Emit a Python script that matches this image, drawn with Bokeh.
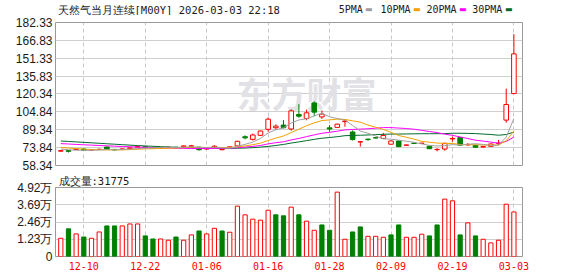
from bokeh.plotting import figure
from bokeh.layouts import column
from bokeh.models import Range1d, FixedTicker, Label, ColumnDataSource, Title
from bokeh.embed import file_html
from bokeh.resources import INLINE

# ---------------- data ----------------
tick_idx = [3, 11, 19, 27, 35, 43, 51, 59]
tick_labels = ["12-10", "12-22", "01-06", "01-16", "01-28", "02-09", "02-19", "03-03"]

price_ticks = [58.34, 73.84, 89.34, 104.84, 120.34, 135.83, 151.33, 166.83, 182.33]
price_tick_labels = ["58.34", "73.84", "89.34", "104.84", "120.34", "135.83", "151.33", "166.83", "182.33"]
vol_ticks = [0, 12300, 24600, 36900, 49200]
vol_tick_labels = ["0", "1.23万", "2.46万", "3.69万", "4.92万"]

title_text = "天然气当月连续[M00Y] 2026-03-03 22:18"
ma_names = ["5PMA", "10PMA", "20PMA", "30PMA"]

opens = [70.8, 71.3, 72.2, 72.6, 71.8, 72.2, 74.4, 72.3, 72.3, 73.0,
         74.3, 74.6, 74.0, 73.5, 73.9, 74.2, 74.6, 75.0, 74.2, 72.6,
         74.3, 72.0, 74.0, 75.3, 83.3, 81.0, 84.5, 89.7, 91.1, 93.4,
         90.0, 102.6, 99.1, 112.6, 100.5, 91.0, 91.4, 96.4, 87.4, 78.7,
         81.2, 82.4, 81.8, 76.8, 79.6, 75.9, 77.8, 77.5, 75.0, 72.1,
         72.6, 81.4, 82.6, 76.3, 75.8, 74.4, 75.0, 77.3, 97.7, 120.7]
highs = [71.8, 71.6, 73.0, 73.0, 72.4, 73.0, 74.6, 72.6, 73.2, 74.0,
         75.7, 75.0, 74.3, 74.2, 74.5, 74.4, 75.6, 76.2, 74.6, 73.6,
         76.0, 72.6, 74.8, 79.8, 84.5, 86.0, 88.6, 100.0, 94.0, 97.7,
         107.0, 111.5, 106.8, 114.0, 106.0, 93.4, 94.5, 97.8, 88.8, 79.6,
         81.8, 82.6, 86.6, 80.3, 80.0, 76.4, 78.2, 78.0, 75.6, 73.4,
         78.0, 83.4, 83.0, 77.8, 76.0, 75.4, 77.4, 80.5, 125.0, 172.3]
lows = [70.3, 69.6, 71.8, 71.0, 71.5, 71.9, 71.9, 71.3, 72.0, 72.8,
        74.0, 73.6, 73.4, 73.2, 73.7, 73.5, 74.3, 74.6, 71.2, 72.2,
        73.4, 71.6, 73.5, 75.0, 81.0, 80.0, 84.0, 87.6, 89.5, 90.5,
        88.5, 99.7, 97.6, 101.1, 98.7, 87.5, 91.0, 91.9, 80.0, 74.7,
        79.8, 81.9, 81.3, 76.5, 74.3, 75.5, 77.0, 77.2, 72.6, 70.6,
        71.2, 79.0, 75.6, 75.3, 73.9, 73.7, 74.6, 75.8, 95.5, 120.7]
closes = [71.2, 70.6, 72.5, 71.6, 72.0, 72.4, 72.2, 71.9, 72.7, 73.6,
          74.7, 74.0, 73.7, 73.9, 74.2, 73.8, 75.3, 75.4, 72.0, 73.2,
          75.0, 72.3, 74.5, 79.3, 82.3, 84.8, 88.2, 98.5, 92.5, 91.1,
          105.7, 101.1, 104.0, 104.6, 102.9, 90.0, 94.2, 96.9, 80.8, 79.0,
          80.8, 82.2, 84.4, 79.6, 74.7, 76.1, 77.4, 77.7, 72.9, 72.3,
          77.6, 81.7, 76.0, 76.6, 74.2, 74.7, 77.0, 77.7, 111.2, 155.1]
volumes = [13000, 19700, 16100, 13900, 13000, 17500, 21800, 21800, 21800, 23200,
           23200, 14700, 12500, 12500, 11600, 13900, 11600, 15400, 18200, 16100,
           20100, 18200, 17300, 35900, 29700, 26600, 25900, 33000, 29700, 29000,
           35200, 29700, 25200, 18700, 22500, 18700, 45900, 12300, 17500, 21100,
           14400, 14400, 13700, 15400, 22500, 13700, 13700, 15900, 14700, 22500,
           40900, 39700, 15400, 24000, 14700, 12300, 9700, 11600, 37300, 31775]

ma5 = [72.6, 72.0, 71.6, 71.4, 71.6, 71.8, 72.1, 72.0, 72.2, 72.6,
       73.0, 73.4, 73.7, 74.0, 74.1, 73.9, 74.2, 74.5, 74.1, 73.9,
       74.2, 73.6, 73.4, 74.9, 76.7, 78.6, 81.8, 86.6, 89.3, 91.0,
       95.2, 97.8, 98.9, 101.3, 103.7, 100.5, 99.1, 97.7, 93.0, 88.2,
       86.3, 83.9, 81.4, 81.2, 80.3, 79.4, 78.4, 77.1, 75.8, 75.3,
       75.6, 76.4, 76.1, 76.8, 77.2, 76.6, 75.7, 76.0, 83.0, 99.1]
ma10 = [74.0, 73.5, 73.0, 72.5, 72.2, 72.0, 71.9, 71.9, 71.9, 72.1,
        72.4, 72.8, 72.9, 73.1, 73.3, 73.5, 73.8, 74.1, 74.1, 74.0,
        74.1, 73.9, 74.0, 74.5, 75.3, 76.4, 77.7, 80.0, 82.1, 83.9,
        86.9, 89.8, 92.8, 95.3, 97.3, 97.9, 98.5, 98.3, 97.1, 95.9,
        93.4, 91.5, 89.6, 87.1, 84.3, 82.9, 81.2, 79.3, 78.5, 77.8,
        77.5, 77.4, 76.6, 76.3, 76.3, 76.1, 76.1, 76.1, 79.9, 88.2]
ma20 = [77.3, 77.0, 76.6, 76.3, 76.0, 75.7, 75.4, 75.1, 74.8, 74.6,
        74.3, 74.1, 73.9, 73.7, 73.5, 73.3, 73.2, 73.1, 73.0, 73.05,
        73.2, 73.3, 73.4, 73.8, 74.3, 74.9, 75.7, 77.1, 78.1, 78.9,
        80.5, 81.8, 83.4, 84.9, 86.3, 87.1, 88.1, 89.2, 89.6, 89.9,
        90.2, 90.7, 91.2, 91.2, 90.8, 90.4, 89.8, 88.8, 87.8, 86.9,
        85.5, 84.5, 83.1, 81.7, 80.3, 79.5, 78.6, 77.7, 79.2, 83.0]
ma30 = [79.6, 79.2, 78.8, 78.4, 78.0, 77.6, 77.2, 76.8, 76.4, 76.0,
        75.6, 75.3, 75.0, 74.7, 74.4, 74.1, 73.8, 73.6, 73.4, 73.3,
        73.3, 73.2, 73.2, 73.3, 73.5, 73.8, 74.3, 74.9, 75.7, 76.6,
        77.8, 78.8, 79.9, 81.0, 82.0, 82.6, 83.3, 84.2, 84.4, 84.6,
        84.8, 85.1, 85.4, 85.6, 85.6, 85.7, 85.8, 85.9, 85.9, 85.9,
        86.0, 86.3, 86.3, 86.2, 86.0, 85.6, 85.2, 84.6, 85.2, 87.3]

# ---------------- styling ----------------
RED = "#ff0000"
GREEN = "#008000"
MA_COLORS = ["#a0a0a0", "#f2a100", "#ff00ff", "#006b2d"]
GRID = "#cfcfcf"
VGRID = "#c8c8c8"
FRAME = "#999999"
TXT = "#1a1a1a"
MONO = "DejaVu Sans Mono"
CJK = "Noto Sans CJK SC"
W = 578

n = len(closes)
xs = list(range(n))
up = [c >= o for o, c in zip(opens, closes)]
vol_up = [True] + [closes[i] >= closes[i - 1] for i in range(1, n)]

src = ColumnDataSource(dict(
    x=xs, high=highs, low=lows,
    top=[max(o, c) for o, c in zip(opens, closes)],
    bottom=[min(o, c) for o, c in zip(opens, closes)],
    line=[RED if u else GREEN for u in up],
    fill=["#ffffff" if u else GREEN for u in up],
))
vsrc = ColumnDataSource(dict(
    x=xs, vol=volumes,
    line=[RED if u else GREEN for u in vol_up],
    fill=["#ffffff" if u else GREEN for u in vol_up],
))

x_range = Range1d(-0.69, 60.12)


def style_axis(ax, font, size, color, standoff):
    ax.axis_line_color = None
    ax.major_tick_line_color = None
    ax.minor_tick_line_color = None
    ax.major_tick_out = 0
    ax.major_tick_in = 0
    ax.major_label_standoff = standoff
    ax.major_label_text_font = font
    ax.major_label_text_font_size = size
    ax.major_label_text_color = color


def canvas_label(p, x, y, text, font, size, color=TXT):
    p.add_layout(Label(x=x, y=y, x_units="canvas", y_units="canvas", text=text,
                       text_font=font, text_font_size=size, text_color=color,
                       text_baseline="middle", text_align="left"))


# ---------------- header: title + legend ----------------
HH = 15
header = figure(frame_width=W, frame_height=HH, x_range=Range1d(0, W), y_range=Range1d(HH, 0),
                toolbar_location=None, output_backend="svg", title=None,
                min_border_left=0, min_border_right=0, min_border_top=0, min_border_bottom=0)
header.xaxis.visible = False
header.yaxis.visible = False
header.grid.visible = False
header.outline_line_color = None
header.background_fill_color = "white"
header.border_fill_color = "white"
canvas_label(header, 57, 9.5, title_text, MONO, "10.5px")
legend_text_x = [338.3, 380, 426, 471.7]
legend_key_x = [368, 416, 462, 508]
for name, tx, kx, col in zip(ma_names, legend_text_x, legend_key_x, MA_COLORS):
    canvas_label(header, tx, 8.5, name, MONO, "10px")
    canvas_label(header, kx - 3.5, 8.5, "▬", "DejaVu Sans", "8px", color=col)

# ---------------- price chart ----------------
p1 = figure(width=W, height=157, x_range=x_range, y_range=Range1d(58.34, 182.33),
            toolbar_location=None, output_backend="svg", title=None,
            min_border_left=55, min_border_right=56, min_border_top=7, min_border_bottom=7)
p1.background_fill_color = "white"
p1.border_fill_color = "white"
p1.outline_line_color = FRAME
p1.xaxis.visible = False
p1.xgrid.ticker = FixedTicker(ticks=tick_idx)
p1.xgrid.grid_line_color = VGRID
p1.xgrid.grid_line_dash = "4 3"
yax = p1.yaxis[0]
yax.ticker = FixedTicker(ticks=price_ticks)
yax.major_label_overrides = {t: s for t, s in zip(price_ticks, price_tick_labels)}
style_axis(yax, "Liberation Sans", "12px", TXT, 3)
p1.ygrid.grid_line_color = GRID

# watermark
p1.add_layout(Label(x=236, y=77, x_units="canvas", y_units="canvas", text="东方财富",
                    text_font=CJK, text_font_size="35px", text_font_style="bold",
                    text_color="#e2e2e6", text_baseline="middle", level="underlay"))

p1.segment(x0="x", y0="low", x1="x", y1="high", line_color="line", line_width=1, source=src)
p1.vbar(x="x", width=0.6, top="top", bottom="bottom", fill_color="fill",
        line_color="line", line_width=1, source=src)

for vals, col in zip([ma30, ma20, ma10, ma5], MA_COLORS[::-1]):
    p1.line(xs, vals, line_color=col, line_width=1)

# ---------------- volume chart ----------------
p2 = figure(width=W, height=104, x_range=x_range, y_range=Range1d(0, 49200),
            toolbar_location=None, output_backend="svg", title=None,
            min_border_left=55, min_border_right=56, min_border_top=15, min_border_bottom=20)
p2.add_layout(Title(text="成交量:" + str(volumes[-1]), align="left", offset=3,
                    text_font=MONO, text_font_size="10.5px", text_font_style="normal",
                    text_color=TXT, vertical_align="middle", standoff=0), "above")
p2.background_fill_color = "white"
p2.border_fill_color = "white"
p2.outline_line_color = FRAME
xax = p2.xaxis[0]
xax.ticker = FixedTicker(ticks=tick_idx)
xax.major_label_overrides = {t: s for t, s in zip(tick_idx, tick_labels)}
style_axis(xax, MONO, "10px", RED, 5)
p2.xgrid.grid_line_color = VGRID
p2.xgrid.grid_line_dash = "4 3"
vax = p2.yaxis[0]
vax.ticker = FixedTicker(ticks=vol_ticks)
vax.major_label_overrides = {t: s for t, s in zip(vol_ticks, vol_tick_labels)}
style_axis(vax, "Liberation Sans", "12px", TXT, 3)
p2.ygrid.grid_line_color = GRID

p2.vbar(x="x", width=0.55, top="vol", bottom=0, fill_color="fill", line_color="line",
        line_width=1, source=vsrc)

layout = column(header, p1, p2, spacing=0)
open("out.html", "w").write(file_html(layout, INLINE))
